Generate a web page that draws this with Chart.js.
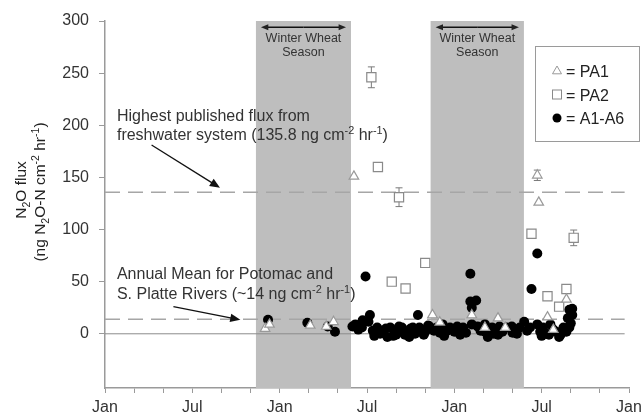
<!DOCTYPE html>
<html>
<head>
<meta charset="utf-8">
<script src="https://cdn.jsdelivr.net/npm/chart.js@4"></script>
<style>
  html, body { margin: 0; padding: 0; background: #fff; }
</style>
</head>
<body>
<canvas id="fluxChart" width="641" height="416"></canvas>
<script>
// x values are months counted from the first Jan on the axis
const pa1Months = [11.0, 11.3, 14.1, 15.2, 15.7, 17.1, 22.5, 23.0, 25.2, 26.1, 27.0, 27.5, 29.7, 29.8, 30.4, 30.8, 31.7];
const pa1Values = [5, 9, 8, 7, 11.5, 151, 18, 11, 18, 6, 15, 6, 152, 126, 16, 4, 33];
const pa1Errors = [0, 0, 0, 0, 0, 0, 0, 0, 0, 0, 0, 0, 5, 0, 0, 0, 0];

const pa2Months = [18.3, 18.75, 19.7, 20.2, 20.65, 22.0, 29.3, 30.4, 31.2, 31.7, 32.2];
const pa2Values = [246, 160, 50, 131, 43.5, 68, 96, 36, 26, 43, 92];
const pa2Errors = [10, 0, 0, 9, 0, 0, 0, 0, 0, 0, 7.5];

const aMonths = [11.2, 13.9, 15.3, 15.8, 17.2, 17.4, 17.0, 17.65, 17.7, 17.9, 18.1, 18.2, 18.4, 18.7, 18.9, 19.1, 19.3, 19.6, 19.8, 20.05,
  20.2, 20.4, 20.6, 20.8, 21.0, 21.15, 21.3, 21.5, 21.6, 21.8, 22.0, 22.2, 22.3, 22.6, 22.8, 23.0, 23.2, 23.5, 23.7, 24.0,
  24.2, 24.6, 24.8, 25.1, 25.1, 25.5, 25.2, 25.2, 25.6, 25.8, 26.1, 26.1, 26.6, 26.7, 27.1, 27.3, 27.6, 27.95, 28.0, 28.5,
  28.8, 29.0, 29.2, 29.3, 29.7, 29.7, 29.9, 30.1, 30.3, 30.6, 30.8, 31.0, 31.3, 31.5, 31.7, 31.8, 31.9, 31.9, 32.0, 32.1, 32.1,
  18.5, 19.4, 20.0, 20.9, 21.9, 23.3, 24.4, 26.3, 27.0, 28.3, 30.0, 30.5, 31.2];
const aValues = [13.4, 10.5, 7, 2, 9, 4, 7, 6, 13, 55, 11.5, 18, 3, 6, 0, 2, 5, 6, -2, 2,
  7, 6, -1, 2, 5, 6, 0, 18, 6, 3, 2, 8, 7, 3, 6, 1, 9, 3, 6, 2,
  7, 6, 1, 57.5, 31, 32, 25, 9, 7, 3, 9, 2, 6, 0, 7, 2, 6, 7, 1, 6,
  11.5, 3, 6, 43, 77, 9, 2, 6, 0, 9, 4, 2, -1, 6, 2, 15, 23, 6, 10, 18, 24,
  -2, -3, -1, -3, -1, -2, -1, -3, -1, 0, -2, -1, -3];

const seasonStarts = [10.37, 22.37];
const seasonEnds = [16.9, 28.78];
const highestFlux = 135.8;
const riverMean = 14;
const yTicks = [0, 50, 100, 150, 200, 250, 300];
const xLabels = ["Jan", "Jul"];

const FONT = "'Liberation Sans', Arial, sans-serif";

function toPoints(xs, ys) {
  return xs.map((x, i) => ({ x: x, y: ys[i] }));
}

// text with super/subscripts: parts = [[text, 0|1|-1]] (1 = sup, -1 = sub)
function richWidth(ctx, parts, size) {
  let w = 0;
  parts.forEach(([t, s]) => {
    ctx.font = (s ? size * 0.68 : size) + "px " + FONT;
    w += ctx.measureText(t).width;
  });
  return w;
}
function drawRich(ctx, parts, x, y, size, align) {
  let cx = align === "center" ? x - richWidth(ctx, parts, size) / 2 : x;
  ctx.textAlign = "left";
  ctx.textBaseline = "alphabetic";
  parts.forEach(([t, s]) => {
    ctx.font = (s ? size * 0.68 : size) + "px " + FONT;
    const dy = s === 1 ? -size * 0.38 : s === -1 ? size * 0.25 : 0;
    ctx.fillText(t, cx, y + dy);
    cx += ctx.measureText(t).width;
  });
}
function arrow(ctx, x1, y1, x2, y2, head) {
  const a = Math.atan2(y2 - y1, x2 - x1);
  ctx.beginPath();
  ctx.moveTo(x1, y1);
  ctx.lineTo(x2 - Math.cos(a) * head * 0.8, y2 - Math.sin(a) * head * 0.8);
  ctx.stroke();
  ctx.beginPath();
  ctx.moveTo(x2, y2);
  ctx.lineTo(x2 - head * Math.cos(a - 0.4), y2 - head * Math.sin(a - 0.4));
  ctx.lineTo(x2 - head * Math.cos(a + 0.4), y2 - head * Math.sin(a + 0.4));
  ctx.closePath();
  ctx.fill();
}

const backdrop = {
  id: "backdrop",
  beforeDatasetsDraw(chart) {
    const { ctx, chartArea, scales } = chart;
    const xs = scales.x, ys = scales.y;
    ctx.save();
    // winter wheat seasons
    ctx.fillStyle = "#bebebe";
    seasonStarts.forEach((s, i) => {
      const x1 = xs.getPixelForValue(s), x2 = xs.getPixelForValue(seasonEnds[i]);
      ctx.fillRect(x1, chartArea.top, x2 - x1, chartArea.bottom - chartArea.top);
    });
    const xEnd = xs.getPixelForValue(35.7);
    // zero line
    ctx.strokeStyle = "#8c8c8c";
    ctx.lineWidth = 1;
    ctx.beginPath();
    ctx.moveTo(chartArea.left, ys.getPixelForValue(0));
    ctx.lineTo(xEnd, ys.getPixelForValue(0));
    ctx.stroke();
    // reference lines
    ctx.strokeStyle = "#a6a6a6";
    ctx.lineWidth = 1.5;
    ctx.setLineDash([15, 8]);
    [highestFlux, riverMean].forEach(v => {
      const y = ys.getPixelForValue(v);
      ctx.beginPath();
      ctx.moveTo(chartArea.left, y);
      ctx.lineTo(xEnd, y);
      ctx.stroke();
    });
    ctx.setLineDash([]);
    // error bars
    ctx.strokeStyle = "#7a7a7a";
    ctx.lineWidth = 1;
    [[pa1Months, pa1Values, pa1Errors], [pa2Months, pa2Values, pa2Errors]].forEach(([mx, vy, er]) => {
      er.forEach((e, i) => {
        if (!e) return;
        const x = xs.getPixelForValue(mx[i]);
        const yt = ys.getPixelForValue(vy[i] + e), yb = ys.getPixelForValue(vy[i] - e);
        ctx.beginPath();
        ctx.moveTo(x, yt); ctx.lineTo(x, yb);
        ctx.moveTo(x - 3.5, yt); ctx.lineTo(x + 3.5, yt);
        ctx.moveTo(x - 3.5, yb); ctx.lineTo(x + 3.5, yb);
        ctx.stroke();
      });
    });
    ctx.restore();
  },
  afterDraw(chart) {
    const { ctx, scales } = chart;
    const xs = scales.x, ys = scales.y;
    ctx.save();
    ctx.fillStyle = "#222";
    ctx.strokeStyle = "#111";
    // season labels and arrows
    seasonStarts.forEach((s, i) => {
      const x1 = xs.getPixelForValue(s), x2 = xs.getPixelForValue(seasonEnds[i]);
      const mid = (x1 + x2) / 2;
      const ya = ys.getPixelForValue(294);
      ctx.lineWidth = 1.5;
      arrow(ctx, mid, ya, x1 + 5, ya, 8);
      arrow(ctx, mid, ya, x2 - 5, ya, 8);
      ctx.fillStyle = "#333";
      drawRich(ctx, [["Winter Wheat", 0]], mid, ys.getPixelForValue(284) + 4.5, 12.5, "center");
      drawRich(ctx, [["Season", 0]], mid, ys.getPixelForValue(271) + 4.5, 12.5, "center");
      ctx.fillStyle = "#222";
    });
    // annotations
    const tx = xs.getPixelForValue(0.82);
    ctx.fillStyle = "#333";
    drawRich(ctx, [["Highest published flux from", 0]], tx, ys.getPixelForValue(210) + 6, 16, "left");
    drawRich(ctx, [["freshwater system (135.8 ng cm", 0], ["-2", 1], [" hr", 0], ["-1", 1], [")", 0]],
      tx, ys.getPixelForValue(192) + 6, 16, "left");
    drawRich(ctx, [["Annual Mean for Potomac and", 0]], tx, ys.getPixelForValue(58.5) + 6, 16, "left");
    drawRich(ctx, [["S. Platte Rivers (~14 ng cm", 0], ["-2", 1], [" hr", 0], ["-1", 1], [")", 0]],
      tx, ys.getPixelForValue(39.3) + 6, 16, "left");
    ctx.fillStyle = "#111";
    ctx.lineWidth = 1.3;
    arrow(ctx, xs.getPixelForValue(3.2), ys.getPixelForValue(181), xs.getPixelForValue(7.9), ys.getPixelForValue(140), 11);
    arrow(ctx, xs.getPixelForValue(4.7), ys.getPixelForValue(26), xs.getPixelForValue(9.3), ys.getPixelForValue(13.4), 11);
    // y axis title
    ctx.fillStyle = "#222";
    ctx.save();
    ctx.translate(26, 190);
    ctx.rotate(-Math.PI / 2);
    drawRich(ctx, [["N", 0], ["2", -1], ["O flux", 0]], 0, 0, 15.5, "center");
    ctx.restore();
    ctx.save();
    ctx.translate(45, 192);
    ctx.rotate(-Math.PI / 2);
    drawRich(ctx, [["(ng N", 0], ["2", -1], ["O-N cm", 0], ["-2", 1], [" hr", 0], ["-1", 1], [")", 0]], 0, 0, 15.5, "center");
    ctx.restore();
    // legend box
    ctx.strokeStyle = "#9a9a9a";
    ctx.lineWidth = 1;
    ctx.strokeRect(535.5, 46.5, 104, 95);
    const leg = [["= PA1", "triangle"], ["= PA2", "rect"], ["= A1-A6", "circle"]];
    leg.forEach(([label, style], i) => {
      const y = 71 + i * 23.5;
      if (style === "triangle") {
        ctx.fillStyle = "#fff"; ctx.strokeStyle = "#999";
        ctx.beginPath(); ctx.moveTo(557, y - 5); ctx.lineTo(561.5, y + 2.8); ctx.lineTo(552.5, y + 2.8); ctx.closePath();
        ctx.fill(); ctx.stroke();
      } else if (style === "rect") {
        ctx.fillStyle = "#fff"; ctx.strokeStyle = "#8a8a8a";
        ctx.fillRect(552.5, y - 4.5, 9, 9); ctx.strokeRect(552.5, y - 4.5, 9, 9);
      } else {
        ctx.fillStyle = "#000";
        ctx.beginPath(); ctx.arc(557, y, 4.5, 0, Math.PI * 2); ctx.fill();
      }
      ctx.fillStyle = "#222";
      drawRich(ctx, [[label, 0]], 566, y + 6, 16, "left");
    });
    ctx.restore();
  }
};

const ctx = document.getElementById("fluxChart").getContext("2d");
new Chart(ctx, {
  type: "scatter",
  data: {
    datasets: [
      {
        label: "A1-A6",
        data: toPoints(aMonths, aValues),
        pointStyle: "circle",
        pointRadius: 5,
        backgroundColor: "#000",
        borderColor: "#000",
        borderWidth: 0,
        order: 3,
      },
      {
        label: "PA2",
        data: toPoints(pa2Months, pa2Values),
        pointStyle: "rect",
        pointRadius: 6.5,
        backgroundColor: "#fff",
        borderColor: "#8a8a8a",
        borderWidth: 1.2,
        order: 2,
      },
      {
        label: "PA1",
        data: toPoints(pa1Months, pa1Values),
        pointStyle: "triangle",
        pointRadius: 5.5,
        backgroundColor: "#fff",
        borderColor: "#999",
        borderWidth: 1.2,
        order: 1,
      },
    ],
  },
  options: {
    responsive: false,
    animation: false,
    layout: { padding: { top: 21, right: 12, left: 0, bottom: 0 } },
    plugins: { legend: { display: false }, tooltip: { enabled: false } },
    scales: {
      x: {
        type: "linear",
        min: 0,
        max: 36,
        border: { color: "#9a9a9a", width: 1.5 },
        grid: { drawOnChartArea: false, tickLength: 5, color: "#9a9a9a", lineWidth: 1 },
        ticks: {
          stepSize: 2,
          autoSkip: false,
          maxRotation: 0,
          padding: 5,
          color: "#333",
          font: { family: FONT, size: 16 },
          callback: (v) => (v % 6 === 0 ? xLabels[(v / 6) % 2] : ""),
        },
        afterFit: (s) => { s.height = 28; s.paddingLeft = 0; s.paddingRight = 0; },
      },
      y: {
        min: -52,
        max: 300,
        afterBuildTicks: (s) => { s.ticks = yTicks.map((v) => ({ value: v })); },
        border: { color: "#9a9a9a", width: 1.5 },
        grid: { drawOnChartArea: false, tickLength: 6, color: "#9a9a9a" },
        ticks: { padding: 10, color: "#333", font: { family: FONT, size: 16 } },
        afterFit: (s) => { s.width = 105; s.paddingTop = 0; s.paddingBottom = 0; },
      },
    },
  },
  plugins: [backdrop],
});
</script>
</body>
</html>
